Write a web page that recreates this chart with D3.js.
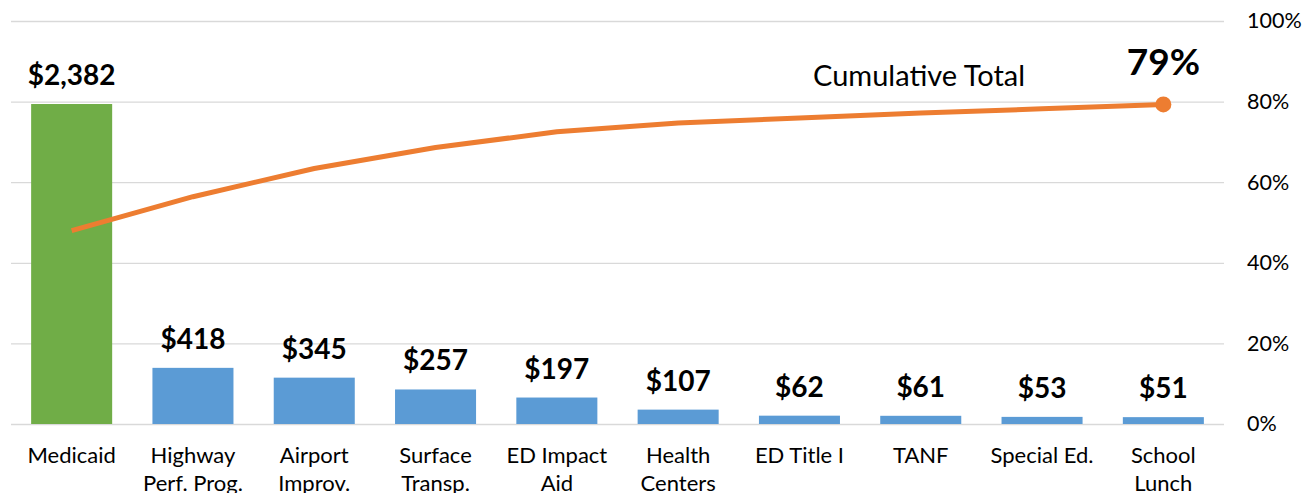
<!DOCTYPE html>
<html>
<head>
<meta charset="utf-8">
<script src="https://cdn.jsdelivr.net/npm/d3@7"></script>
<style>
	body { margin: 0; background: #fff; }
	svg text { font-family: Lato, "Open Sans", sans-serif; fill: #000; }
</style>
</head>
<body>
<svg width="1312" height="493"></svg>
<script>
var categories = ["Medicaid", "Highway|Perf. Prog.", "Airport|Improv.", "Surface|Transp.", "ED Impact|Aid", "Health|Centers", "ED Title I", "TANF", "Special Ed.", "School|Lunch"];
var amounts = [2382, 418, 345, 257, 197, 107, 62, 61, 53, 51];
var cumulative = [0.48, 0.564, 0.634, 0.686, 0.725, 0.747, 0.759, 0.772, 0.782, 0.793];
var pctTicks = [0, 0.2, 0.4, 0.6, 0.8, 1];

window.pareto = window.pareto || {};
window.pareto.chart = {
	svg : {},
	load:function(){
		var top = 21, bottom = 424, left = 11, right = 1224;

		this.svg = d3.select("svg");

		var x = d3.scaleBand()
			.domain(categories)
			.range([left, right])
			.paddingInner(0.332)
			.paddingOuter(0.166);
		var yBar = d3.scaleLinear().domain([0, 3000]).range([bottom, top]);
		var yPct = d3.scaleLinear().domain([0, 1]).range([bottom, top]);

		// grid + right axis labels
		var grid = this.svg.append("g")
			.attr("transform", "translate(" + left + ",0)")
			.call(d3.axisRight(yPct)
				.tickValues(pctTicks)
				.tickSize(right - left)
				.tickPadding(23)
				.tickFormat(d3.format(".0%")));
		grid.select(".domain").remove();
		grid.selectAll("line").attr("stroke", "#d9d9d9").attr("stroke-width", 1.3);
		grid.selectAll("text")
			.attr("text-anchor", "start")
			.attr("font-size", 21.5)
			.attr("fill", "#000");

		// bars
		this.svg.append("g")
			.selectAll("rect")
			.data(amounts)
			.join("rect")
			.attr("x", function(d, i){ return x(categories[i]); })
			.attr("width", x.bandwidth())
			.attr("y", function(d){ return yBar(d); })
			.attr("height", function(d){ return bottom - yBar(d); })
			.attr("fill", function(d, i){ return i === 0 ? "#70ad47" : "#5b9bd5"; });

		this.svg.append("g")
			.selectAll("text")
			.data(amounts)
			.join("text")
			.attr("x", function(d, i){ return x(categories[i]) + x.bandwidth() / 2; })
			.attr("y", function(d){ return yBar(d) - 19; })
			.attr("text-anchor", "middle")
			.attr("font-size", 28)
			.attr("font-weight", "bold")
			.text(function(d){ return "$" + d3.format(",")(d); });

		// category axis
		var xAxis = this.svg.append("g")
			.attr("transform", "translate(0," + bottom + ")")
			.call(d3.axisBottom(x).tickSize(0).tickPadding(0).tickFormat(""));
		xAxis.select(".domain").remove();
		xAxis.selectAll(".tick text").remove();
		xAxis.selectAll(".tick")
			.append("text")
			.attr("text-anchor", "middle")
			.attr("font-size", 22)
			.selectAll("tspan")
			.data(function(d){ return d.split("|"); })
			.join("tspan")
			.attr("x", 0)
			.attr("y", function(d, i){ return 39 + i * 28; })
			.text(function(d){ return d; });

		// cumulative line
		var cx = function(d, i){ return x(categories[i]) + x.bandwidth() / 2; };
		this.svg.append("path")
			.datum(cumulative)
			.attr("fill", "none")
			.attr("stroke", "#ed7d31")
			.attr("stroke-width", 5)
			.attr("stroke-linejoin", "round")
			.attr("d", d3.line().x(cx).y(function(d){ return yPct(d); }));

		var last = cumulative.length - 1;
		this.svg.append("circle")
			.attr("cx", cx(cumulative[last], last))
			.attr("cy", yPct(cumulative[last]))
			.attr("r", 8)
			.attr("fill", "#ed7d31");

		this.svg.append("text")
			.attr("x", cx(cumulative[last], last))
			.attr("y", 75)
			.attr("text-anchor", "middle")
			.attr("font-size", 37)
			.attr("font-weight", "bold")
			.text(d3.format(".0%")(cumulative[last]));

		this.svg.append("text")
			.attr("x", 813)
			.attr("y", 86)
			.attr("font-size", 29)
			.text("Cumulative Total");
	}
};
window.pareto.chart.load();
</script>
</body>
</html>
